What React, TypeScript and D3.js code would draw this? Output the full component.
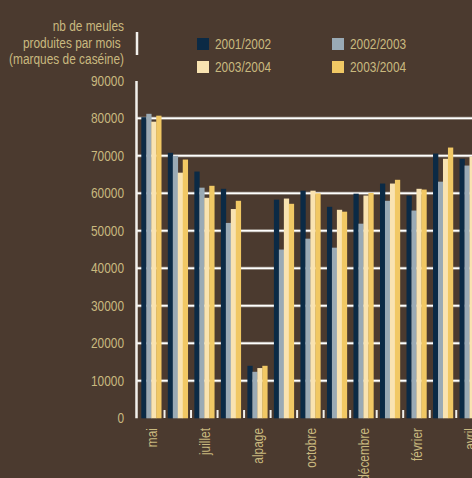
import React from "react";
import * as d3 from "d3";

const months = ["mai", "juin", "juillet", "août", "alpage", "septembre", "octobre", "novembre", "décembre", "janvier", "février", "mars", "avril"];
const shownLabels = ["mai", "", "juillet", "", "alpage", "", "octobre", "", "décembre", "", "février", "", "avril"];
const legendLabels = ["2001/2002", "2002/2003", "2003/2004", "2003/2004"];
const s2001 = [80300, 70800, 65800, 61200, 14000, 58300, 60700, 56400, 59900, 62600, 59400, 70600, 69200];
const s2002 = [81200, 70000, 61500, 52100, 12400, 45000, 47900, 45500, 51900, 58000, 55400, 63100, 67400];
const s2003 = [79100, 65500, 58800, 55800, 13400, 58600, 60700, 55600, 59400, 62600, 61200, 69200, 69800];
const s2003b = [80700, 69000, 62000, 58000, 14000, 57200, 60000, 55100, 60100, 63600, 61000, 72200, 70500];
const yTicks = [0, 10000, 20000, 30000, 40000, 50000, 60000, 70000, 80000, 90000];
const titleLines = ["nb de meules", "produites par mois ", "(marques de caséine)"];

const colors = ["#0b2a45", "#9aaab5", "#f9e3b1", "#f1c864"];
const BG = "#4b3a2f";
const TXT = "#c9b97f";
const FONT = "'Liberation Sans', Arial, sans-serif";
const FS = 14.5;
const SX = 0.82;

function T({ x, y, anchor = "start", rotate = 0, children }: { x: number; y: number; anchor?: string; rotate?: number; children: React.ReactNode }) {
  return (
    <g transform={`translate(${x},${y}) rotate(${rotate}) scale(${SX},1)`}>
      <text x={0} y={0} textAnchor={anchor} fontSize={FS} fill={TXT} style={{ whiteSpace: "pre" }}>{children}</text>
    </g>
  );
}

export default function App() {
  const W = 472, H = 478;
  const series = [s2001, s2002, s2003, s2003b];
  const y = d3.scaleLinear().domain([0, 90000]).range([418.3, 80.8]);
  const step = 26.52;
  const x0 = d3.scaleBand<string>().domain(months).range([138, 138 + months.length * step]).paddingInner(0.25).paddingOuter(0.125);
  const x1 = d3.scaleBand<number>().domain([0, 1, 2, 3]).range([0, x0.bandwidth()]).padding(0);
  const gap = x0.step() - x0.bandwidth();

  return (
    <svg width={W} height={H} style={{ position: "absolute", left: 0, top: 0 }} fontFamily={FONT}>
      <rect x={0} y={0} width={W} height={H} fill={BG} />
      {/* title */}
      {titleLines.map((t, i) => (
        <T key={i} x={124} y={31 + i * 16.7} anchor="end">{t}</T>
      ))}
      <line x1={137} x2={137} y1={32} y2={55} stroke="#f2f0ec" strokeWidth={2.5} />
      {/* legend */}
      {legendLabels.map((l, i) => {
        const cx = i % 2 === 0 ? 197 : 332;
        const cy = i < 2 ? 38 : 61;
        return (
          <g key={i}>
            <rect x={cx} y={cy} width={12} height={12} fill={colors[i]} />
            <T x={cx + 18} y={cy + 10.5}>{l}</T>
          </g>
        );
      })}
      {/* gridlines */}
      {yTicks.filter(v => v > 0 && v < 90000).map(v => (
        <g key={v}>
          <line x1={137} x2={W} y1={y(v)} y2={y(v)} stroke="#a39c94" strokeWidth={3} />
          <line x1={137} x2={W} y1={y(v)} y2={y(v)} stroke="#ffffff" strokeWidth={1.6} />
        </g>
      ))}
      {/* y labels */}
      {yTicks.map(v => (
        <T key={v} x={124} y={y(v) + 5} anchor="end">{v}</T>
      ))}
      {/* bars */}
      {months.map((m, gi) => (
        <g key={m} transform={`translate(${x0(m)},0)`}>
          {series.map((s, si) => (
            <rect key={si} x={x1(si)} y={y(s[gi])} width={x1.bandwidth() + 0.3} height={y(0) - y(s[gi])} fill={colors[si]} />
          ))}
        </g>
      ))}
      {/* bottom ticks */}
      {months.map(m => {
        const tx = (x0(m) as number) + x0.bandwidth() + gap / 2;
        return <line key={m} x1={tx} x2={tx} y1={410} y2={418} stroke="#f2f0ec" strokeWidth={2} />;
      })}
      {/* y axis */}
      <line x1={136.5} x2={136.5} y1={81} y2={418.3} stroke="#f2f0ec" strokeWidth={2.5} />
      {/* x labels */}
      {months.map((m, i) => shownLabels[i] ? (
        <T key={m} x={(x0(m) as number) + x0.bandwidth() / 2 + 5.5} y={428} rotate={-90} anchor="end">{shownLabels[i]}</T>
      ) : null)}
    </svg>
  );
}
